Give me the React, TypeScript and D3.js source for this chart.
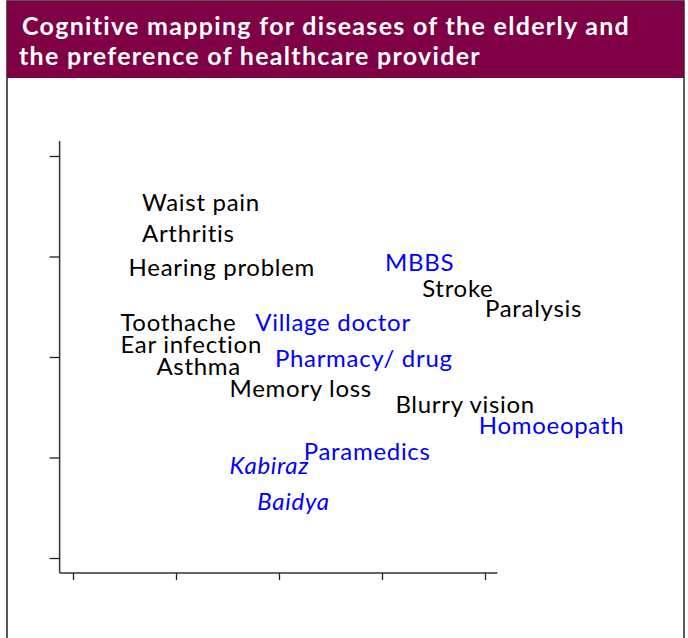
import React, { useEffect, useRef } from 'react';
import * as d3 from 'd3';

// Cognitive map: label positions on the two dimensions
const titleLines = [
  'Cognitive mapping for diseases of the elderly and',
  'the preference of healthcare provider',
];

const diseaseLabels = ['Waist pain', 'Arthritis', 'Hearing problem', 'Stroke', 'Paralysis', 'Toothache', 'Ear infection', 'Asthma', 'Memory loss', 'Blurry vision'];
const diseaseX = [-1.33, -1.33, -1.46, 1.39, 2.0, -1.54, -1.54, -1.19, -0.48, 1.13];
const diseaseY = [1.45, 1.14, 0.81, 0.6, 0.4, 0.26, 0.04, -0.18, -0.4, -0.56];

const providerLabels = ['MBBS', 'Village doctor', 'Pharmacy/ drug', 'Homoeopath', 'Paramedics', 'Kabiraz', 'Baidya'];
const providerX = [1.03, -0.23, -0.04, 1.94, 0.24, -0.48, -0.21];
const providerY = [0.86, 0.26, -0.1, -0.77, -1.02, -1.16, -1.52];
const providerItalic = [false, false, false, false, false, true, true];

const tickValues = [-2, -1, 0, 1, 2];

const W = 688;
const H = 638;

export default function App() {
  const svgRef = useRef<SVGSVGElement>(null);

  useEffect(() => {
    const svg = d3.select(svgRef.current);
    svg.selectAll('*').remove();

    const font = 'Lato, "Open Sans", sans-serif';

    // frame
    svg.append('rect')
      .attr('x', 7).attr('y', 1)
      .attr('width', 677).attr('height', H + 10)
      .attr('fill', '#fff')
      .attr('stroke', '#222')
      .attr('stroke-width', 1.5);

    // title banner
    svg.append('rect')
      .attr('x', 7).attr('y', 1)
      .attr('width', 677).attr('height', 77)
      .attr('fill', '#800046');

    svg.append('g')
      .selectAll('text')
      .data(titleLines)
      .enter()
      .append('text')
      .attr('x', (d, i) => (i === 0 ? 22 : 19))
      .attr('y', (d, i) => (i === 0 ? 35 : 65))
      .attr('fill', '#fff')
      .attr('font-family', font)
      .attr('font-weight', 'bold')
      .attr('font-size', 25)
      .attr('letter-spacing', 1.3)
      .text(d => d);

    const x = d3.scaleLinear().domain([-2, 2]).range([73, 485]);
    const y = d3.scaleLinear().domain([-2, 2]).range([558, 156]);

    const ox = x(-2.13);
    const oy = y(-2.15);

    const axisG = svg.append('g').attr('stroke', '#333').attr('stroke-width', 1.5);
    axisG.append('line')
      .attr('x1', ox).attr('x2', ox)
      .attr('y1', y(2.15)).attr('y2', oy);
    axisG.append('line')
      .attr('x1', ox).attr('x2', x(2.12))
      .attr('y1', oy).attr('y2', oy);

    const yAxis = d3.axisLeft(y).tickValues(tickValues).tickSize(10).tickFormat(() => '');
    const xAxis = d3.axisBottom(x).tickValues(tickValues).tickSize(7).tickFormat(() => '');

    const yg = svg.append('g').attr('transform', `translate(${ox},0)`).call(yAxis);
    const xg = svg.append('g').attr('transform', `translate(0,${oy})`).call(xAxis);
    [yg, xg].forEach(g => {
      g.select('.domain').remove();
      g.selectAll('.tick line').attr('stroke', '#222').attr('stroke-width', 1.3);
    });

    // disease labels (black)
    svg.append('g')
      .selectAll('text')
      .data(diseaseLabels)
      .enter()
      .append('text')
      .attr('x', (d, i) => x(diseaseX[i]))
      .attr('y', (d, i) => y(diseaseY[i]))
      .attr('font-family', font)
      .attr('font-size', 24)
      .attr('letter-spacing', 0.7)
      .attr('fill', '#000')
      .text(d => d);

    // provider labels (blue)
    svg.append('g')
      .selectAll('text')
      .data(providerLabels)
      .enter()
      .append('text')
      .attr('x', (d, i) => x(providerX[i]))
      .attr('y', (d, i) => y(providerY[i]))
      .attr('font-family', font)
      .attr('font-size', 24)
      .attr('letter-spacing', 0.7)
      .attr('font-style', (d, i) => (providerItalic[i] ? 'italic' : 'normal'))
      .attr('fill', '#0000ff')
      .text(d => d);
  }, []);

  return (
    <svg
      ref={svgRef}
      width={W}
      height={H}
      style={{ position: 'absolute', left: 0, top: 0, display: 'block' }}
    />
  );
}
